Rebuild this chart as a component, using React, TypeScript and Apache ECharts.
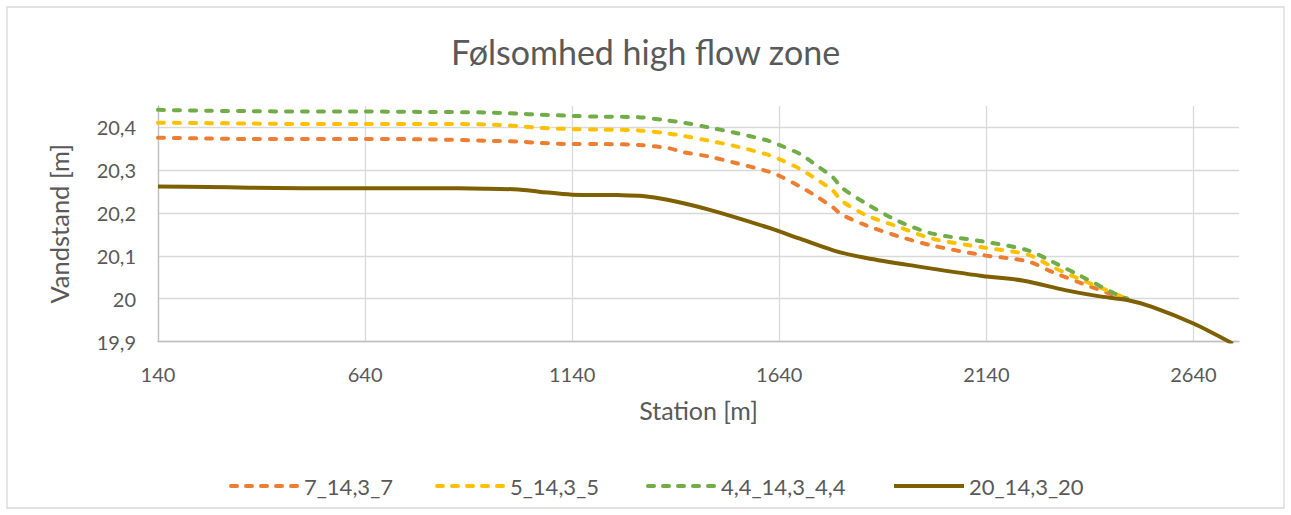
import React, { useEffect, useRef } from "react";
import * as echarts from "echarts";

// ---- data ----
const seriesNames = ["7_14,3_7", "5_14,3_5", "4,4_14,3_4,4", "20_14,3_20"];

const stationsDashed = [140, 260, 360, 490, 640, 800, 930, 1010, 1060, 1140, 1210, 1300, 1370, 1410, 1470, 1530, 1610, 1640, 1690, 1720, 1770, 1790, 1850, 1930, 2010, 2130, 2240, 2300, 2370, 2450, 2480];
const orangeVals = [20.376, 20.374, 20.373, 20.373, 20.373, 20.372, 20.369, 20.367, 20.364, 20.361, 20.361, 20.359, 20.352, 20.342, 20.332, 20.318, 20.298, 20.287, 20.262, 20.245, 20.213, 20.197, 20.171, 20.145, 20.124, 20.102, 20.087, 20.062, 20.036, 20.008, 20.0];
const yellowVals = [20.411, 20.41, 20.409, 20.408, 20.408, 20.408, 20.407, 20.403, 20.399, 20.396, 20.395, 20.393, 20.386, 20.38, 20.369, 20.357, 20.337, 20.326, 20.303, 20.285, 20.252, 20.229, 20.195, 20.167, 20.14, 20.12, 20.103, 20.074, 20.044, 20.012, 20.0];
const greenVals = [20.441, 20.439, 20.438, 20.437, 20.437, 20.436, 20.435, 20.432, 20.43, 20.427, 20.425, 20.424, 20.416, 20.411, 20.4, 20.388, 20.37, 20.359, 20.338, 20.318, 20.283, 20.26, 20.222, 20.18, 20.152, 20.134, 20.113, 20.086, 20.052, 20.012, 20.0];

const stationsBrown = [140, 260, 360, 490, 640, 800, 930, 1010, 1060, 1140, 1250, 1310, 1370, 1470, 1610, 1690, 1770, 1850, 1970, 2130, 2230, 2330, 2410, 2480, 2540, 2640, 2735];
const brownVals = [20.262, 20.261, 20.259, 20.258, 20.258, 20.258, 20.257, 20.255, 20.25, 20.243, 20.242, 20.24, 20.231, 20.208, 20.167, 20.14, 20.113, 20.095, 20.076, 20.053, 20.042, 20.02, 20.006, 19.997, 19.981, 19.942, 19.895];

const xMin = 140;
const xMax = 2750;
const xInterval = 500;
const yMin = 19.9;
const yMax = 20.45;
const yInterval = 0.1;

const colors = ["#ED7D31", "#FFC000", "#70AD47", "#7F6000"];
const legendLefts = [224, 430, 641, 889];
const FONT = "Lato";
const TEXT = "#595959";

const pairs = (xs: number[], ys: number[]) => xs.map((x, i) => [x, ys[i]]);

const dashIcon =
  "path://" +
  [0, 15, 30, 45, 60].map((x) => `M${x + 2},0h6a2,2 0 0 1 0,4h-6a2,2 0 0 1 0,-4z`).join(" ");
const solidIcon = "path://M0,0h70v4h-70z";

export default function App() {
  const ref = useRef<HTMLDivElement>(null);
  useEffect(() => {
    if (!ref.current) return;
    const chart = echarts.init(ref.current, undefined, { renderer: "svg" });
    const dashed = (name: string, color: string, data: number[][]) => ({
      name,
      type: "line",
      data,
      showSymbol: false,
      symbol: "none",
      smooth: 0.3,
      lineStyle: { color, width: 4, type: [6, 10], cap: "round" },
      itemStyle: { color },
    });
    chart.setOption({
      animation: false,
      backgroundColor: "#ffffff",
      title: {
        text: "Følsomhed high flow zone",
        left: "center",
        top: 29,
        textStyle: { fontFamily: FONT, fontSize: 34, fontWeight: "normal", color: TEXT },
      },
      graphic: [
        {
          type: "rect",
          shape: { x: 7, y: 7, width: 1277, height: 501 },
          style: { fill: "none", stroke: "#d9d9d9", lineWidth: 1.3 },
          silent: true,
        },
      ],
      grid: { left: 158, right: 52, top: 106, bottom: 173.5, containLabel: false },
      legend: seriesNames.map((n, i) => ({
        left: legendLefts[i],
        top: 470,
        itemWidth: 70,
        itemHeight: 4,
        itemGap: 0,
        textStyle: { fontFamily: FONT, fontSize: 22, color: TEXT },
        data: [{ name: n, icon: i < 3 ? dashIcon : solidIcon }],
      })),
      xAxis: {
        type: "value",
        min: xMin,
        max: xMax,
        interval: xInterval,
        name: "Station [m]",
        nameLocation: "middle",
        nameGap: 56,
        nameTextStyle: { fontFamily: FONT, fontSize: 25, color: TEXT },
        axisLine: { show: true, lineStyle: { color: "#bfbfbf", width: 1.3 } },
        axisTick: { show: false },
        axisLabel: {
          fontFamily: FONT,
          fontSize: 20,
          color: TEXT,
          margin: 22,
          showMaxLabel: false,
          formatter: (v: number) => (v > xMax - 50 ? "" : String(v)),
        },
        splitLine: { show: true, showMaxLine: false, lineStyle: { color: "#d9d9d9", width: 1.3 } },
      },
      yAxis: {
        type: "value",
        min: yMin,
        max: yMax,
        interval: yInterval,
        name: "Vandstand [m]",
        nameLocation: "middle",
        nameGap: 86,
        nameTextStyle: { fontFamily: FONT, fontSize: 25.5, color: TEXT },
        axisLine: { show: true, lineStyle: { color: "#bfbfbf", width: 1.3 } },
        axisTick: { show: false },
        axisLabel: {
          fontFamily: FONT,
          fontSize: 20,
          color: TEXT,
          margin: 22,
          showMaxLabel: false,
          formatter: (v: number) =>
            v > yMax - 0.01 ? "" : String(Math.round(v * 10) / 10).replace(".", ","),
        },
        splitLine: { show: true, showMaxLine: false, lineStyle: { color: "#d9d9d9", width: 1.3 } },
      },
      series: [
        dashed(seriesNames[0], colors[0], pairs(stationsDashed, orangeVals)),
        dashed(seriesNames[1], colors[1], pairs(stationsDashed, yellowVals)),
        dashed(seriesNames[2], colors[2], pairs(stationsDashed, greenVals)),
        {
          name: seriesNames[3],
          type: "line",
          data: pairs(stationsBrown, brownVals),
          showSymbol: false,
          symbol: "none",
          smooth: 0.3,
          lineStyle: { color: colors[3], width: 4, type: "solid" },
          itemStyle: { color: colors[3] },
        },
      ],
    });
    return () => chart.dispose();
  }, []);
  return (
    <div
      ref={ref}
      style={{ position: "fixed", left: 0, top: 0, width: 1291, height: 515, background: "#fff" }}
    />
  );
}
